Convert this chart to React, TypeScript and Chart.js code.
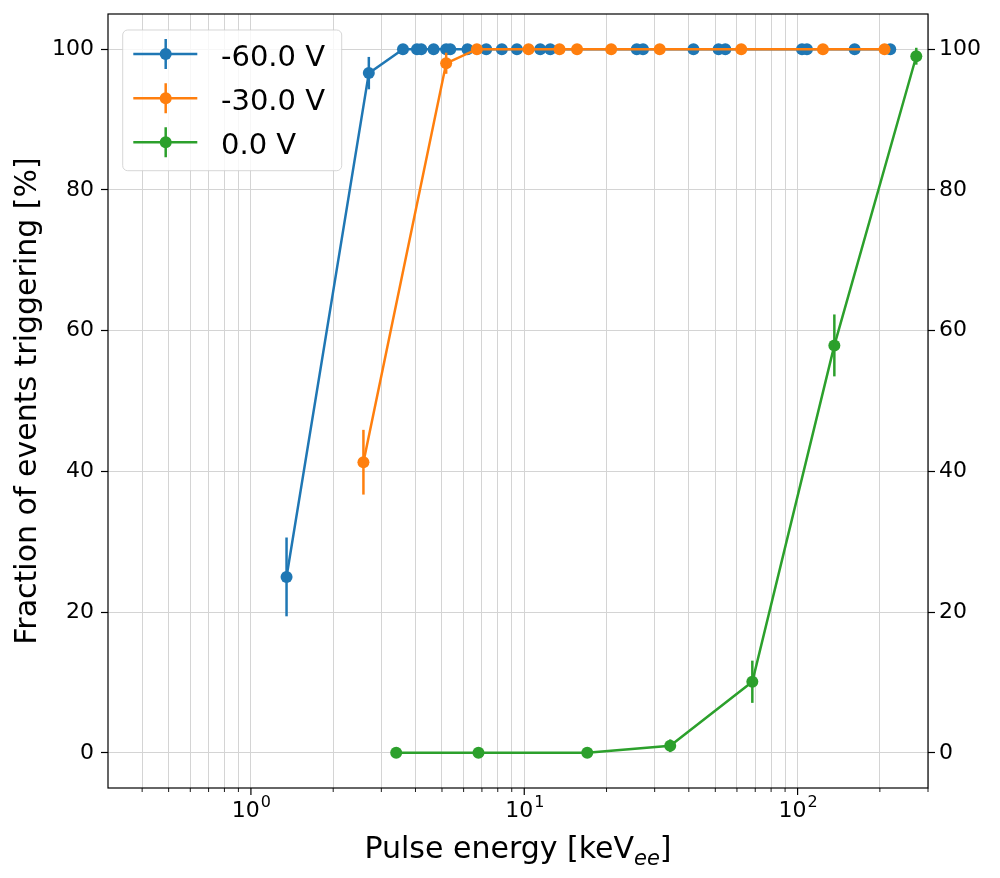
import { useEffect, useRef } from "react";
import Chart from "chart.js/auto";

// -60.0 V
const blueEnergy = [1.35, 2.7, 3.6, 4.05, 4.2, 4.66, 5.18, 5.36, 6.2, 7.26, 8.28, 9.4, 11.44, 12.45, 25.8, 27.2, 41.6, 51.4, 54.4, 103.8, 108.2, 161.7, 218.3];
const blueFraction = [25, 96.6, 100, 100, 100, 100, 100, 100, 100, 100, 100, 100, 100, 100, 100, 100, 100, 100, 100, 100, 100, 100, 100];
const blueError = [5.6, 2.3, 0, 0, 0, 0, 0, 0, 0, 0, 0, 0, 0, 0, 0, 0, 0, 0, 0, 0, 0, 0, 0];

// -30.0 V
const orangeEnergy = [2.58, 5.18, 6.71, 10.37, 13.46, 15.6, 20.8, 31.3, 62.2, 123.8, 208];
const orangeFraction = [41.3, 98, 100, 100, 100, 100, 100, 100, 100, 100, 100];
const orangeError = [4.6, 1.5, 0, 0, 0, 0, 0, 0, 0, 0, 0];

// 0.0 V
const greenEnergy = [3.4, 6.8, 17.0, 34.2, 68.3, 136.3, 271.8];
const greenFraction = [0, 0, 0, 1.0, 10.1, 57.9, 99.0];
const greenError = [0, 0, 0, 0.9, 3.0, 4.4, 1.2];

const seriesLabels = ["-60.0 V", "-30.0 V", "0.0 V"];
const seriesColors = ["#1f77b4", "#ff7f0e", "#2ca02c"];

const yTicks = [0, 20, 40, 60, 80, 100];
const xMajorTicks = [1, 10, 100];
const xMajorExponents = ["0", "1", "2"];
const xMinorTicks = [0.4, 0.5, 0.6, 0.7, 0.8, 0.9, 2, 3, 4, 5, 6, 7, 8, 9, 20, 30, 40, 50, 60, 70, 80, 90, 200, 300];

const FONT = "DejaVu Sans";
const GRID = "#d4d4d4";

const series = [
  { x: blueEnergy, y: blueFraction, err: blueError },
  { x: orangeEnergy, y: orangeFraction, err: orangeError },
  { x: greenEnergy, y: greenFraction, err: greenError },
];

const decor = {
  id: "decor",
  afterDatasetDraw(chart: any, args: any) {
    const i = args.index;
    const s = series[i];
    const ys = chart.scales.y;
    const meta = chart.getDatasetMeta(i);
    const ctx = chart.ctx;
    ctx.save();
    ctx.strokeStyle = seriesColors[i];
    ctx.lineWidth = 2.5;
    s.err.forEach((e, j) => {
      if (!e) return;
      const pt = meta.data[j];
      ctx.beginPath();
      ctx.moveTo(pt.x, ys.getPixelForValue(s.y[j] - e));
      ctx.lineTo(pt.x, ys.getPixelForValue(s.y[j] + e));
      ctx.stroke();
    });
    ctx.restore();
  },
  afterDraw(chart: any) {
    const ctx = chart.ctx;
    const ca = chart.chartArea;
    const xs = chart.scales.x;
    ctx.save();

    // frame
    ctx.strokeStyle = "#000";
    ctx.lineWidth = 1.2;
    ctx.strokeRect(ca.left, ca.top, ca.right - ca.left, ca.bottom - ca.top);

    // x tick marks
    xMinorTicks.forEach((v) => {
      const px = xs.getPixelForValue(v);
      ctx.lineWidth = 0.9;
      ctx.beginPath();
      ctx.moveTo(px, ca.bottom);
      ctx.lineTo(px, ca.bottom + 4);
      ctx.stroke();
    });
    xMajorTicks.forEach((v, k) => {
      const px = xs.getPixelForValue(v);
      ctx.lineWidth = 1.2;
      ctx.beginPath();
      ctx.moveTo(px, ca.bottom);
      ctx.lineTo(px, ca.bottom + 7);
      ctx.stroke();
      // label 10^k
      ctx.fillStyle = "#000";
      ctx.textBaseline = "alphabetic";
      ctx.textAlign = "left";
      ctx.font = `22px "${FONT}"`;
      const wBase = ctx.measureText("10").width;
      ctx.font = `16px "${FONT}"`;
      const wExp = ctx.measureText(xMajorExponents[k]).width;
      const x0 = px - (wBase + wExp) / 2;
      ctx.font = `22px "${FONT}"`;
      ctx.fillText("10", x0, ca.bottom + 29);
      ctx.font = `16px "${FONT}"`;
      ctx.fillText(xMajorExponents[k], x0 + wBase + 1, ca.bottom + 19);
    });

    // x title with subscript
    const main = "Pulse energy [keV";
    ctx.font = `30px "${FONT}"`;
    const w1 = ctx.measureText(main).width;
    const w3 = ctx.measureText("]").width;
    ctx.font = `italic 21px "${FONT}"`;
    const w2 = ctx.measureText("ee").width;
    const tx = (ca.left + ca.right) / 2 - (w1 + w2 + w3) / 2;
    const ty = ca.bottom + 70;
    ctx.font = `30px "${FONT}"`;
    ctx.fillText(main, tx, ty);
    ctx.font = `italic 21px "${FONT}"`;
    ctx.fillText("ee", tx + w1, ty + 7);
    ctx.font = `30px "${FONT}"`;
    ctx.fillText("]", tx + w1 + w2, ty);

    // legend
    const bx = ca.left + 14.7;
    const by = ca.top + 16;
    const bw = 219;
    const bh = 140.7;
    ctx.beginPath();
    ctx.roundRect(bx, by, bw, bh, 5);
    ctx.fillStyle = "rgba(255,255,255,0.8)";
    ctx.fill();
    ctx.strokeStyle = "rgba(204,204,204,0.8)";
    ctx.lineWidth = 1;
    ctx.stroke();
    seriesLabels.forEach((lab, i) => {
      const cy = by + 24 + i * 44.15;
      const c = seriesColors[i];
      ctx.strokeStyle = c;
      ctx.fillStyle = c;
      ctx.lineWidth = 2.5;
      ctx.beginPath();
      ctx.moveTo(bx + 10.6, cy);
      ctx.lineTo(bx + 74.6, cy);
      ctx.moveTo(bx + 43, cy - 15);
      ctx.lineTo(bx + 43, cy + 15);
      ctx.stroke();
      ctx.beginPath();
      ctx.arc(bx + 43, cy, 6, 0, Math.PI * 2);
      ctx.fill();
      ctx.fillStyle = "#000";
      ctx.font = `29px "${FONT}"`;
      ctx.textAlign = "left";
      ctx.textBaseline = "alphabetic";
      ctx.fillText(lab, bx + 98.3, cy + 11.5);
    });

    ctx.restore();
  },
};

export default function App() {
  const canvasRef = useRef<HTMLCanvasElement>(null);
  const chartRef = useRef<Chart | null>(null);

  useEffect(() => {
    if (!canvasRef.current) return;

    const datasets = series.map((s, i) => ({
      label: seriesLabels[i],
      data: s.x.map((x, j) => ({ x, y: s.y[j] })),
      borderColor: seriesColors[i],
      backgroundColor: seriesColors[i],
      borderWidth: 2.5,
      pointRadius: 6,
      pointHoverRadius: 6,
      pointBorderWidth: 0,
      tension: 0,
      order: 3 - i,
      yAxisID: "y",
    }));

    const yTickOpts = (padding: number) => ({
      font: { family: FONT, size: 22 },
      color: "#000",
      padding,
    });

    const fixY = (width: number) => (s: any) => {
      s.width = width;
      s.paddingTop = 0;
      s.paddingBottom = 0;
    };

    chartRef.current = new Chart(canvasRef.current, {
      type: "line",
      data: { datasets },
      options: {
        animation: false,
        responsive: false,
        events: [],
        layout: { padding: { top: 6, left: 0, right: 0, bottom: 0 } },
        plugins: {
          legend: { display: false },
          tooltip: { enabled: false },
          title: { display: false },
        },
        scales: {
          x: {
            type: "logarithmic",
            position: "bottom",
            min: 0.3,
            max: 300,
            afterBuildTicks: (s: any) => {
              s.ticks = [...xMinorTicks, ...xMajorTicks]
                .sort((a, b) => a - b)
                .map((v) => ({ value: v }));
            },
            afterFit: (s: any) => {
              s.height = 82;
              s.paddingLeft = 0;
              s.paddingRight = 0;
            },
            ticks: { display: false },
            grid: { color: GRID, lineWidth: 1, drawTicks: false },
            border: { display: false },
          },
          y: {
            type: "linear",
            position: "left",
            min: -5,
            max: 105,
            afterBuildTicks: (s: any) => {
              s.ticks = yTicks.map((v) => ({ value: v }));
            },
            afterFit: fixY(100),
            ticks: yTickOpts(7),
            grid: {
              color: GRID,
              lineWidth: 1,
              drawTicks: true,
              tickLength: 7,
              tickColor: "#000",
              tickWidth: 1.2,
            },
            border: { display: false },
            title: {
              display: true,
              text: "Fraction of events triggering [%]",
              color: "#000",
              font: { family: FONT, size: 30 },
              padding: { top: 2, bottom: 0 },
            },
          },
          y2: {
            type: "linear",
            position: "right",
            min: -5,
            max: 105,
            afterBuildTicks: (s: any) => {
              s.ticks = yTicks.map((v) => ({ value: v }));
            },
            afterFit: fixY(64),
            ticks: yTickOpts(4),
            grid: {
              drawOnChartArea: false,
              drawTicks: true,
              tickLength: 7,
              tickColor: "#000",
              tickWidth: 1.2,
            },
            border: { display: false },
          },
        },
      } as any,
      plugins: [decor],
    });

    return () => {
      chartRef.current?.destroy();
    };
  }, []);

  return (
    <canvas
      ref={canvasRef}
      width={984}
      height={862}
      style={{ display: "block", width: 984, height: 862 }}
    />
  );
}
